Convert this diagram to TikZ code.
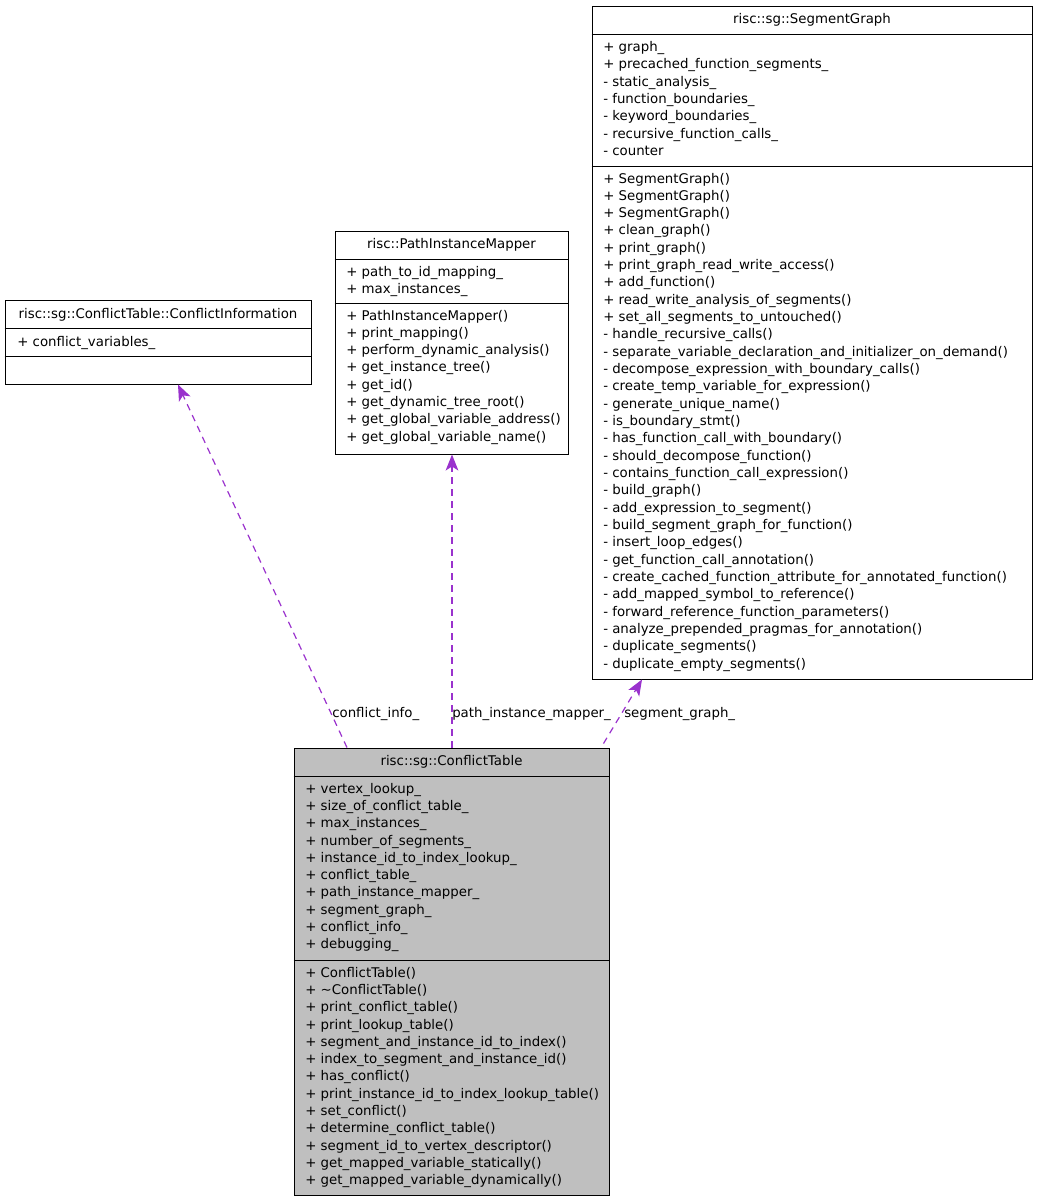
\documentclass[tikz,border=0pt]{standalone}
\usepackage{fontspec}
\setmainfont{DejaVu Sans}
\usetikzlibrary{arrows.meta}
\definecolor{linkpurple}{HTML}{9A32CD}
\definecolor{ctgrey}{HTML}{BFBFBF}

\begin{document}
\begin{tikzpicture}[x=0.75pt, y=-0.75pt, >=Stealth,
    font=\fontsize{10}{12}\selectfont,
    classbox/.style={draw=black, line width=0.75pt, inner sep=0pt},
    member/.style={anchor=base west, inner sep=0pt},
    classname/.style={anchor=base, inner sep=0pt},
    link/.style={-{Stealth[length=12pt, width=9.5pt, inset=3pt]}, linkpurple, line width=0.9pt, dash pattern=on 5pt off 4pt},
    linklabel/.style={anchor=base west, inner sep=0pt}]
    \useasboundingbox (0,0) rectangle (1037,1203);

    % boxes
    \node (sg) [classbox, fill=white, minimum width=330pt, minimum height=504.75pt] at (812,342.5) {};
    \node (pim) [classbox, fill=white, minimum width=174.75pt, minimum height=167.25pt] at (451.5,342.5) {};
    \node (ci) [classbox, fill=white, minimum width=229.5pt, minimum height=63pt] at (158,342) {};
    \node (ct) [classbox, fill=ctgrey, minimum width=236.25pt, minimum height=335.25pt] at (451.5,971.5) {};

    % compartments
    \draw[line width=0.75pt] (sg.west |- 0,34) -- (sg.east |- 0,34);
    \draw[line width=0.75pt] (sg.west |- 0,166) -- (sg.east |- 0,166);
    \draw[line width=0.75pt] (pim.west |- 0,259) -- (pim.east |- 0,259);
    \draw[line width=0.75pt] (pim.west |- 0,303) -- (pim.east |- 0,303);
    \draw[line width=0.75pt] (ci.west |- 0,328) -- (ci.east |- 0,328);
    \draw[line width=0.75pt] (ci.west |- 0,356) -- (ci.east |- 0,356);
    \draw[line width=0.75pt] (ct.west |- 0,776) -- (ct.east |- 0,776);
    \draw[line width=0.75pt] (ct.west |- 0,960) -- (ct.east |- 0,960);

    % risc::sg::SegmentGraph
    \node (sg-name) [classname] at (812,23.5) {risc::sg::SegmentGraph};
    \foreach \m [count=\i from 0] in {+ graph\_, + precached\_function\_segments\_, - static\_analysis\_,
        - function\_boundaries\_, - keyword\_boundaries\_, - recursive\_function\_calls\_, - counter}
        \node (sg-a\i) [member] at (603,51.5+17.33*\i) {\m};
    \foreach \m [count=\i from 0] in {+ SegmentGraph(), + SegmentGraph(), + SegmentGraph(), + clean\_graph(),
        + print\_graph(), + print\_graph\_read\_write\_access(), + add\_function(),
        + read\_write\_analysis\_of\_segments(), + set\_all\_segments\_to\_untouched(),
        - handle\_recursive\_calls(), - separate\_variable\_declaration\_and\_initializer\_on\_demand(),
        - decompose\_expression\_with\_boundary\_calls(), - create\_temp\_variable\_for\_expression(),
        - generate\_unique\_name(), - is\_boundary\_stmt(), - has\_function\_call\_with\_boundary(),
        - should\_decompose\_function(), - contains\_function\_call\_expression(), - build\_graph(),
        - add\_expression\_to\_segment(), - build\_segment\_graph\_for\_function(), - insert\_loop\_edges(),
        - get\_function\_call\_annotation(), - create\_cached\_function\_attribute\_for\_annotated\_function(),
        - add\_mapped\_symbol\_to\_reference(), - forward\_reference\_function\_parameters(),
        - analyze\_prepended\_pragmas\_for\_annotation(), - duplicate\_segments(), - duplicate\_empty\_segments()}
        \node (sg-m\i) [member] at (603,183+17.33*\i) {\m};

    % risc::PathInstanceMapper
    \node (pim-name) [classname] at (451.5,248) {risc::PathInstanceMapper};
    \foreach \m [count=\i from 0] in {+ path\_to\_id\_mapping\_, + max\_instances\_}
        \node (pim-a\i) [member] at (346,276+17.33*\i) {\m};
    \foreach \m [count=\i from 0] in {+ PathInstanceMapper(), + print\_mapping(), + perform\_dynamic\_analysis(),
        + get\_instance\_tree(), + get\_id(), + get\_dynamic\_tree\_root(), + get\_global\_variable\_address(),
        + get\_global\_variable\_name()}
        \node (pim-m\i) [member] at (346,320+17.33*\i) {\m};

    % risc::sg::ConflictTable::ConflictInformation
    \node (ci-name) [classname] at (158,318) {risc::sg::ConflictTable::ConflictInformation};
    \node (ci-a0) [member] at (17,346) {+ conflict\_variables\_};

    % risc::sg::ConflictTable
    \node (ct-name) [classname] at (451.5,765) {risc::sg::ConflictTable};
    \foreach \m [count=\i from 0] in {+ vertex\_lookup\_, + size\_of\_conflict\_table\_, + max\_instances\_,
        + number\_of\_segments\_, + instance\_id\_to\_index\_lookup\_, + conflict\_table\_,
        + path\_instance\_mapper\_, + segment\_graph\_, + conflict\_info\_, + debugging\_}
        \node (ct-a\i) [member] at (305,793+17.33*\i) {\m};
    \foreach \m [count=\i from 0] in {+ ConflictTable(), + \textasciitilde ConflictTable(), + print\_conflict\_table(),
        + print\_lookup\_table(), + segment\_and\_instance\_id\_to\_index(), + index\_to\_segment\_and\_instance\_id(),
        + has\_conflict(), + print\_instance\_id\_to\_index\_lookup\_table(), + set\_conflict(),
        + determine\_conflict\_table(), + segment\_id\_to\_vertex\_descriptor(),
        + get\_mapped\_variable\_statically(), + get\_mapped\_variable\_dynamically()}
        \node (ct-m\i) [member] at (305,977+17.33*\i) {\m};

    % usage links
    \draw[link] ([xshift=-78.4pt]ct.north) -- ([xshift=15pt]ci.south);
    \draw[link] ([xshift=0.375pt]ct.north) -- ([xshift=0.375pt]pim.south);
    \draw[link] ([xshift=114pt, yshift=3pt]ct.north) -- ([xshift=-127.5pt]sg.south);
    \node (l-ci) [linklabel] at (332,717) {conflict\_info\_};
    \node (l-pim) [linklabel] at (452,717) {path\_instance\_mapper\_};
    \node (l-sg) [linklabel] at (624,717) {segment\_graph\_};
\end{tikzpicture}
\end{document}
